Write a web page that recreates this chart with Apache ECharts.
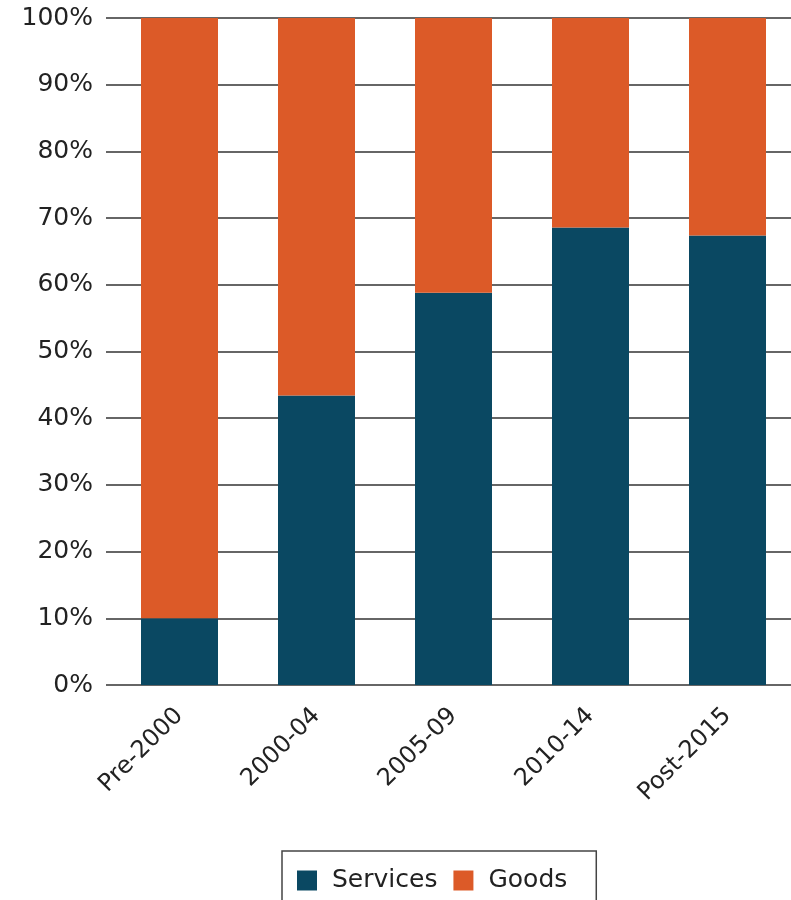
<!DOCTYPE html>
<html>
<head>
<meta charset="utf-8">
<script src="https://cdn.jsdelivr.net/npm/echarts@6/dist/echarts.min.js"></script>
<style>
  html, body { margin: 0; padding: 0; background: #ffffff; }
  #chart { width: 791px; height: 900px; }
</style>
</head>
<body>
<div id="chart"></div>
<script>
// Share of deals by period, split into services and goods (percent)
const periods = ['Pre-2000', '2000-04', '2005-09', '2010-14', 'Post-2015'];
const services = [10.0, 43.4, 58.8, 68.6, 67.4];
const goods = [90.0, 56.6, 41.2, 31.4, 32.6];
const yTicks = { min: 0, max: 100, step: 10 };

const FONT = 'DejaVu Sans';
const TEXT = '#222222';
const GRID_LINE = '#333333';

const chart = echarts.init(document.getElementById('chart'), null, { renderer: 'canvas' });

const valueAxisBase = {
  type: 'value',
  min: yTicks.min,
  max: yTicks.max,
  interval: yTicks.step,
  axisLine: { show: false },
  axisTick: { show: false }
};

chart.setOption({
  animation: false,
  backgroundColor: '#ffffff',
  grid: [
    // plotting area for the bars
    { left: 111, width: 685, top: 18, bottom: 215, containLabel: false, outerBoundsMode: 'none' },
    // slightly wider area carrying the gridlines and percentage labels
    { left: 106, width: 690, top: 18, bottom: 215, containLabel: false, outerBoundsMode: 'none' }
  ],
  legend: {
    left: 282,
    top: 851,
    orient: 'horizontal',
    itemWidth: 20,
    itemHeight: 20,
    itemGap: 16,
    padding: [17, 29, 40, 15],
    borderColor: '#444444',
    borderWidth: 1.5,
    icon: 'rect',
    textStyle: { fontFamily: FONT, fontSize: 25, color: TEXT, padding: [0, 0, 0, 10] },
    data: ['Services', 'Goods']
  },
  xAxis: [
    {
      type: 'category',
      gridIndex: 0,
      data: periods,
      axisLine: { show: false },
      axisTick: { show: false },
      axisLabel: {
        rotate: 45,
        margin: 27,
        fontFamily: FONT,
        fontSize: 24,
        color: TEXT,
        interval: 0
      }
    },
    {
      type: 'category',
      gridIndex: 1,
      data: periods,
      show: false
    }
  ],
  yAxis: [
    Object.assign({}, valueAxisBase, {
      gridIndex: 0,
      axisLabel: { show: false },
      splitLine: { show: false }
    }),
    Object.assign({}, valueAxisBase, {
      gridIndex: 1,
      axisLabel: {
        formatter: '{value}%',
        margin: 13,
        fontFamily: FONT,
        fontSize: 25,
        color: TEXT
      },
      splitLine: { show: true, lineStyle: { color: GRID_LINE, width: 1.5 } }
    })
  ],
  series: [
    {
      name: 'Services',
      type: 'bar',
      stack: 'share',
      xAxisIndex: 0,
      yAxisIndex: 0,
      barWidth: 77,
      z: 3,
      itemStyle: { color: '#0A4862' },
      data: services
    },
    {
      name: 'Goods',
      type: 'bar',
      stack: 'share',
      xAxisIndex: 0,
      yAxisIndex: 0,
      barWidth: 77,
      z: 3,
      itemStyle: { color: '#DC5A28' },
      data: goods
    }
  ]
});
</script>
</body>
</html>
